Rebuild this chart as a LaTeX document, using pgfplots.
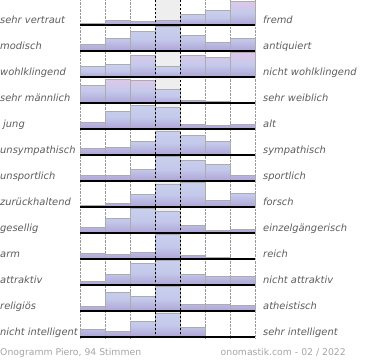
\documentclass[border=0pt]{standalone}
\usepackage{fontspec}
\setmainfont{DejaVu Sans}
\usepackage{pgfplots}
\pgfplotsset{compat=1.18}
\definecolor{lab}{RGB}{92,92,92}
\definecolor{foot}{RGB}{165,165,165}
\definecolor{bgcol}{RGB}{238,238,238}
\definecolor{btop}{RGB}{201,207,237}
\definecolor{bmid}{RGB}{196,201,235}
\definecolor{bbot}{RGB}{174,164,214}
\definecolor{ptop}{RGB}{222,200,233}
\pgfplotsset{
  rowaxis/.style={anchor=south west, scale only axis, width=175pt, height=26pt,
    xmin=0, xmax=7, ymin=0, ymax=26, hide axis, clip=false},
  bluebar/.style={ybar, bar width=1, bar shift=0pt, draw=gray!65, line width=0.6pt,
    top color=btop, bottom color=bbot, middle color=bmid},
  pinkbar/.style={ybar, bar width=1, bar shift=0pt, draw=gray!65, line width=0.6pt,
    top color=ptop, bottom color=bbot, middle color=bmid},
  gridaxis/.style={anchor=north west, at={(80pt,0pt)}, scale only axis, width=175pt, height=338pt,
    xmin=0, xmax=7, ymin=0, ymax=1, axis line style={draw=none}, ytick=\empty,
    major tick length=0pt, xticklabels={}, axis on top},
}
\newcommand\rowplot[3]{%
  \begin{axis}[rowaxis, at={(80pt,-#1pt)}]
    \addplot[bluebar] coordinates {#2};
    \addplot[pinkbar] coordinates {#3};
    \draw[black, line width=1.4pt] (axis cs:0,0) -- (axis cs:7,0);
  \end{axis}}
\newcommand\rowplotb[2]{%
  \begin{axis}[rowaxis, at={(80pt,-#1pt)}]
    \addplot[bluebar] coordinates {#2};
    \draw[black, line width=1.4pt] (axis cs:0,0) -- (axis cs:7,0);
  \end{axis}}
\begin{document}
\begin{tikzpicture}[x=1pt,y=1pt]
% background: grey middle column and dotted grid
\begin{axis}[gridaxis, xtick={0,1,2,5,6,7}, xmajorgrids,
  grid style={gray!80, densely dotted, line width=0.5pt}]
  \addplot[fill=bgcol, draw=none] coordinates {(3,1) (4,1)} \closedcycle;
\end{axis}
% rows
\rowplot{25}{(0.5,1.9) (1.5,4.3) (2.5,3.3) (3.5,4.7) (4.5,10.7) (5.5,14.7)}{(6.5,24)}
\rowplotb{51}{(0.5,7) (1.5,12.7) (2.5,19.3) (3.5,24.3) (4.5,15.7) (5.5,8.3) (6.5,12.3)}
\rowplot{77}{(0.5,10.3) (1.5,12.3) (3.5,10.7)}{(2.5,21.3) (4.5,21.3) (5.5,19.3) (6.5,24.3)}
\rowplot{103}{(3.5,14) (4.5,2.3) (5.5,2) (6.5,1)}{(0.5,17.7) (1.5,24) (2.5,22.3)}
\rowplotb{129}{(0.5,6.7) (1.5,17.5) (2.5,24) (3.5,21.5) (4.5,5) (5.5,3.3) (6.5,5)}
\rowplotb{155}{(0.5,7) (1.5,8) (2.5,13.7) (3.5,24) (4.5,19.7) (5.5,13.7) (6.5,0.7)}
\rowplotb{181}{(0.5,5.3) (1.5,5.3) (2.5,11.7) (3.5,24.3) (4.5,21) (5.5,17) (6.5,6)}
\rowplotb{207}{(0.5,2) (1.5,3.7) (2.5,13) (3.5,22.7) (4.5,24.3) (5.5,6.3) (6.5,13.7)}
\rowplotb{233}{(0.5,6) (1.5,15) (2.5,24.7) (3.5,22) (4.5,8) (5.5,2.7) (6.5,4)}
\rowplotb{259}{(0.5,6) (1.5,5) (2.5,7) (3.5,25) (4.5,4) (5.5,2) (6.5,0.3)}
\rowplotb{285}{(0.5,4) (1.5,10.3) (2.5,21.7) (3.5,25) (4.5,11) (5.5,8.3) (6.5,8.3)}
\rowplotb{311}{(0.5,5) (1.5,18.3) (2.5,15) (3.5,25) (4.5,7) (5.5,7) (6.5,5.7)}
\rowplotb{337}{(0.5,7.7) (1.5,5.3) (2.5,15.7) (3.5,23.7) (4.5,9.7)}
% dashed middle lines on top
\begin{axis}[gridaxis, xtick={3,4}, xmajorgrids,
  grid style={black, dash pattern=on 2.5pt off 1.5pt, line width=0.8pt}]
  \addplot[draw=none] coordinates {(3,0) (4,1)};
\end{axis}
% labels
\tikzset{lbl/.style={inner sep=0pt, anchor=base west, text=lab, font=\fontsize{9.9}{11}\selectfont\itshape}}
\node[lbl] at (0,-23.5) {sehr vertraut};
\node[lbl] at (0,-49.5) {modisch};
\node[lbl] at (0,-75.5) {wohlklingend};
\node[lbl] at (0,-101.5) {sehr männlich};
\node[lbl] at (3,-127.5) {jung};
\node[lbl] at (0,-153.5) {unsympathisch};
\node[lbl] at (0,-179.5) {unsportlich};
\node[lbl] at (0,-205.5) {zurückhaltend};
\node[lbl] at (0,-231.5) {gesellig};
\node[lbl] at (0,-257.5) {arm};
\node[lbl] at (0,-283.5) {attraktiv};
\node[lbl] at (0,-309.5) {religiös};
\node[lbl] at (0,-335.5) {nicht intelligent};
\node[lbl] at (263,-23.5) {fremd};
\node[lbl] at (263,-49.5) {antiquiert};
\node[lbl] at (263,-75.5) {nicht wohlklingend};
\node[lbl] at (263,-101.5) {sehr weiblich};
\node[lbl] at (263,-127.5) {alt};
\node[lbl] at (263,-153.5) {sympathisch};
\node[lbl] at (263,-179.5) {sportlich};
\node[lbl] at (263,-205.5) {forsch};
\node[lbl] at (263,-231.5) {einzelgängerisch};
\node[lbl] at (263,-257.5) {reich};
\node[lbl] at (263,-283.5) {nicht attraktiv};
\node[lbl] at (263,-309.5) {atheistisch};
\node[lbl] at (263,-335.5) {sehr intelligent};
\node[inner sep=0pt, anchor=base west, text=foot, font=\fontsize{9.3}{11}\selectfont] at (0,-355) {Onogramm Piero, 94 Stimmen};
\node[inner sep=0pt, anchor=base east, text=foot, font=\fontsize{9.3}{11}\selectfont] at (346,-355) {onomastik.com - 02 / 2022};
\pgfresetboundingbox
\path (0,0) rectangle (370,-360);
\end{tikzpicture}
\end{document}
